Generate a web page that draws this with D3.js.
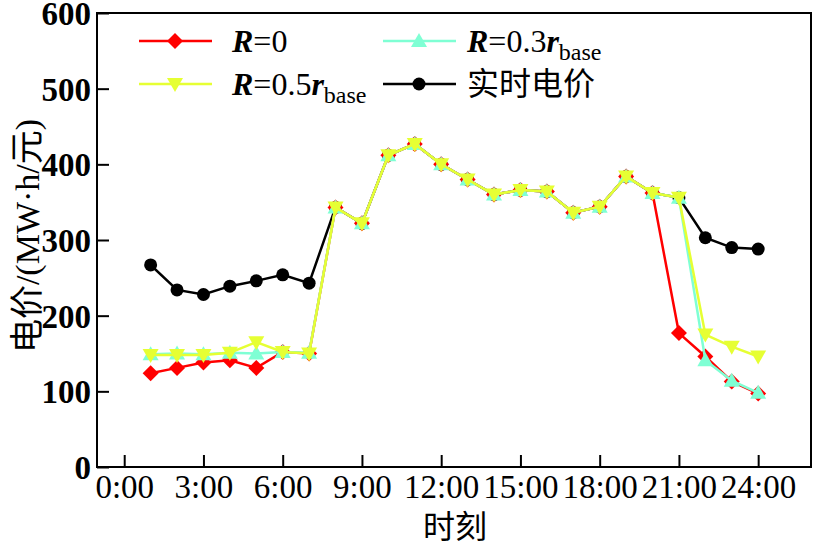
<!DOCTYPE html>
<html><head><meta charset="utf-8">
<script src="https://cdn.jsdelivr.net/npm/d3@7"></script>
<style>body{margin:0;background:#fff}</style>
</head><body>
<svg id="c" width="815" height="546"></svg>
<script>
const hours = [1,2,3,4,5,6,7,8,9,10,11,12,13,14,15,16,17,18,19,20,21,22,23,24];
const priceRT = [267,234,228,239,246,254,243,343,322,412,427,400,380,360,366,364,336,344,384,362,356,303,290,288];
const priceR0 = [124,131,138,141,131,152,150,343,322,412,427,400,380,360,366,364,336,344,384,362,177,146,113,97];
const priceR03 = [149,150,149,151,150,152,151,343,322,412,427,400,380,360,366,364,336,344,384,362,356,141,114,98];
const priceR05 = [148,148,148,151,165,152,150,343,322,412,427,400,380,360,366,364,336,344,384,362,356,175,159,146];
const xTicks = [0,3,6,9,12,15,18,21,24];
const xTickLabels = ["0:00","3:00","6:00","9:00","12:00","15:00","18:00","21:00","24:00"];
const yTicks = [0,100,200,300,400,500,600];

const svg = d3.select("#c");
const L = 97, R = 811, T = 13, B = 467;
const x = d3.scaleLinear().domain([-1.03, 26]).range([L, R]);
const y = d3.scaleLinear().domain([0, 600]).range([B, T]);
const serif = "'Liberation Serif','Times New Roman',serif";
const cjk = "'Noto Sans CJK SC',sans-serif";

// frame
svg.append("rect").attr("x", L).attr("y", T).attr("width", R-L).attr("height", B-T)
  .attr("fill","none").attr("stroke","#000").attr("stroke-width",2);

const xa = svg.append("g").attr("transform",`translate(0,${B})`)
  .call(d3.axisBottom(x).tickValues(xTicks).tickSize(-12).tickPadding(24).tickFormat((d,i)=>xTickLabels[i]));
xa.select(".domain").remove();
xa.selectAll("line").attr("stroke","#000").attr("stroke-width",2);
xa.selectAll("text").attr("font-family",serif).attr("font-size",33).attr("fill","#000").attr("dy","0.2em");

const ya = svg.append("g").attr("transform",`translate(${L},0)`)
  .call(d3.axisLeft(y).tickValues(yTicks).tickSize(-12).tickPadding(6));
ya.select(".domain").remove();
ya.selectAll("line").attr("stroke","#000").attr("stroke-width",2);
ya.selectAll("text").attr("font-family",serif).attr("font-size",33).attr("font-weight","bold").attr("fill","#000").attr("dy","0.35em");

// axis titles
svg.append("text").attr("transform","translate(39,236) rotate(-90)").attr("text-anchor","middle")
  .attr("font-size",34).attr("fill","#000")
  .call(t=>{
    t.append("tspan").attr("font-family",cjk).text("电价");
    t.append("tspan").attr("font-family",serif).text("/(MW·h/");
    t.append("tspan").attr("font-family",cjk).text("元");
    t.append("tspan").attr("font-family",serif).text(")");
  });
svg.append("text").attr("x",455).attr("y",538).attr("text-anchor","middle")
  .attr("font-family",cjk).attr("font-size",32).attr("fill","#000").text("时刻");

// markers
function marker(g, type, color){
  if(type==="diamond") g.append("path").attr("d","M0,-8L8,0L0,8L-8,0Z").attr("fill",color);
  else if(type==="up") g.append("path").attr("d","M0,-8L8,6L-8,6Z").attr("fill",color);
  else if(type==="down") g.append("path").attr("d","M0,8L8,-6L-8,-6Z").attr("fill",color);
  else g.append("circle").attr("r",6.5).attr("fill",color);
}
const series = [
  {vals: priceRT, color:"#000000", m:"circle"},
  {vals: priceR0, color:"#ff0000", m:"diamond"},
  {vals: priceR03, color:"#7fffd4", m:"up"},
  {vals: priceR05, color:"#e6ff33", m:"down"}
];
const line = d3.line().x((d,i)=>x(hours[i])).y(d=>y(d));
series.forEach(s=>{
  const g = svg.append("g");
  g.append("path").attr("d", line(s.vals)).attr("fill","none").attr("stroke",s.color).attr("stroke-width",2.5);
  s.vals.forEach((v,i)=>{
    marker(g.append("g").attr("transform",`translate(${x(hours[i])},${y(v)})`), s.m, s.color);
  });
});

// legend
const leg = [
  {lx:139, ly:41, tx:232, m:"diamond", color:"#ff0000", label:[["R","i"],["=0",""]]},
  {lx:383, ly:41, tx:467, m:"up", color:"#7fffd4", label:[["R","i"],["=0.3",""],["r","i"],["base","s"]]},
  {lx:139, ly:84, tx:232, m:"down", color:"#e6ff33", label:[["R","i"],["=0.5",""],["r","i"],["base","s"]]},
  {lx:383, ly:84, tx:467, m:"circle", color:"#000000", label:null}
];
leg.forEach(e=>{
  const g = svg.append("g");
  g.append("line").attr("x1",e.lx).attr("x2",e.lx+73).attr("y1",e.ly).attr("y2",e.ly).attr("stroke",e.color).attr("stroke-width",2.5);
  marker(g.append("g").attr("transform",`translate(${e.lx+36},${e.ly})`), e.m, e.color);
  const t = g.append("text").attr("x",e.tx).attr("y",e.ly+11).attr("fill","#000").attr("font-size",32);
  if(e.label){
    t.attr("font-family",serif);
    e.label.forEach(([s,st])=>{
      const ts = t.append("tspan").text(s);
      if(st==="i") ts.attr("font-style","italic").attr("font-weight","bold");
      if(st==="s") ts.attr("font-size",24).attr("dy",8);
    });
  } else {
    t.attr("font-family",cjk).attr("font-size",32).attr("y",e.ly+11).text("实时电价");
  }
});
</script>
</body></html>
